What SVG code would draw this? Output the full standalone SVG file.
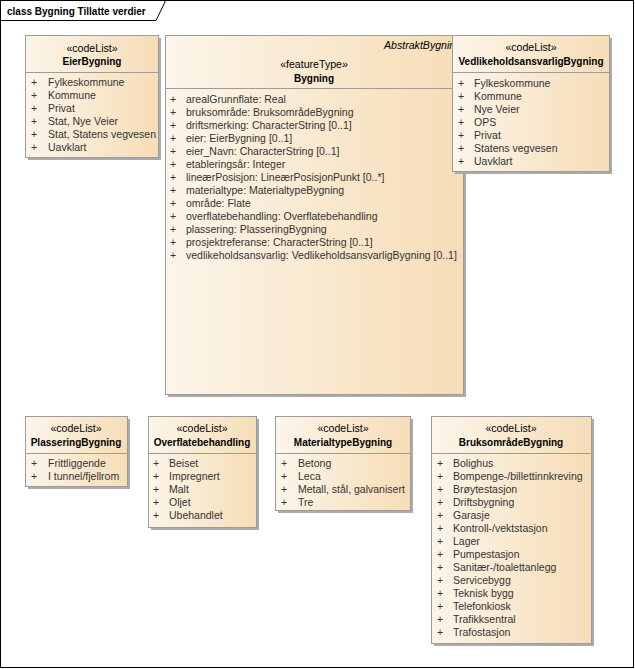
<svg xmlns="http://www.w3.org/2000/svg" width="635" height="669" viewBox="0 0 635 669">
<defs>
<linearGradient id="fillg" x1="0" y1="0" x2="1" y2="0">
<stop offset="0" stop-color="#FCF5EA"/>
<stop offset="1" stop-color="#F6DDB6"/>
</linearGradient>
</defs>
<style>
.box{fill:url(#fillg);stroke:#9C9C9C;stroke-width:1}
.shadow{fill:#ABABAB}
.sep{stroke:#9C9C9C;stroke-width:1}
.st{font-family:"Liberation Sans",Arial,sans-serif;font-size:10.6px;fill:#000;text-anchor:middle}
.nm{font-family:"Liberation Sans",Arial,sans-serif;font-size:10px;font-weight:bold;fill:#000;text-anchor:middle}
.at{font-family:"Liberation Sans",Arial,sans-serif;font-size:10.5px;fill:#333}
.ab{font-family:"Liberation Sans",Arial,sans-serif;font-size:10.6px;font-style:italic;fill:#000}
.frame{fill:none;stroke:#000;stroke-width:1}
.lbl{font-family:"Liberation Sans",Arial,sans-serif;font-size:10px;font-weight:bold;fill:#000}
</style>
<rect x="0" y="0" width="635" height="669" fill="#FFFFFF"/>
<g id="frame">
<rect class="frame" x="0.5" y="0.5" width="633" height="667"/>
<path class="frame" d="M0.5,20.5 H156 L165,2 V0.5"/>
<text class="lbl" x="7" y="15">class Bygning Tillatte verdier</text>
</g>
<g id="connectors"></g>

<g id="EierBygning">
<rect class="shadow" x="28" y="38" width="133" height="122"/>
<rect class="box" x="25.5" y="35.5" width="133" height="122"/>
<line class="sep" x1="25.5" y1="72.5" x2="158.5" y2="72.5"/>
<text class="st" x="92" y="52">«codeList»</text>
<text class="nm" x="92" y="65">EierBygning</text>
<g class="at">
<text x="31" y="86">+</text><text x="48" y="86">Fylkeskommune</text>
<text x="31" y="99">+</text><text x="48" y="99">Kommune</text>
<text x="31" y="112">+</text><text x="48" y="112">Privat</text>
<text x="31" y="125">+</text><text x="48" y="125">Stat, Nye Veier</text>
<text x="31" y="138">+</text><text x="48" y="138">Stat, Statens vegvesen</text>
<text x="31" y="151">+</text><text x="48" y="151">Uavklart</text>
</g>
</g>

<g id="Bygning">
<rect class="shadow" x="168" y="38" width="298" height="359"/>
<rect class="box" x="165.5" y="35.5" width="298" height="359"/>
<line class="sep" x1="165.5" y1="88.5" x2="463.5" y2="88.5"/>
<text class="ab" x="384" y="49">AbstraktBygning</text>
<text class="st" x="314" y="68">«featureType»</text>
<text class="nm" x="314" y="82">Bygning</text>
<g class="at">
<text x="170" y="103">+</text><text x="186" y="103">arealGrunnflate: Real</text>
<text x="170" y="116">+</text><text x="186" y="116">bruksområde: BruksområdeBygning</text>
<text x="170" y="129">+</text><text x="186" y="129">driftsmerking: CharacterString [0..1]</text>
<text x="170" y="142">+</text><text x="186" y="142">eier: EierBygning [0..1]</text>
<text x="170" y="155">+</text><text x="186" y="155">eier_Navn: CharacterString [0..1]</text>
<text x="170" y="168">+</text><text x="186" y="168">etableringsår: Integer</text>
<text x="170" y="181">+</text><text x="186" y="181">lineærPosisjon: LineærPosisjonPunkt [0..*]</text>
<text x="170" y="194">+</text><text x="186" y="194">materialtype: MaterialtypeBygning</text>
<text x="170" y="207">+</text><text x="186" y="207">område: Flate</text>
<text x="170" y="220">+</text><text x="186" y="220">overflatebehandling: Overflatebehandling</text>
<text x="170" y="233">+</text><text x="186" y="233">plassering: PlasseringBygning</text>
<text x="170" y="246">+</text><text x="186" y="246">prosjektreferanse: CharacterString [0..1]</text>
<text x="170" y="259">+</text><text x="186" y="259">vedlikeholdsansvarlig: VedlikeholdsansvarligBygning [0..1]</text>
</g>
</g>

<g id="VedlikeholdsansvarligBygning">
<rect class="shadow" x="455" y="38" width="157" height="136"/>
<rect class="box" x="452.5" y="35.5" width="157" height="136"/>
<line class="sep" x1="452.5" y1="72.5" x2="609.5" y2="72.5"/>
<text class="st" x="531" y="51">«codeList»</text>
<text class="nm" x="531" y="65">VedlikeholdsansvarligBygning</text>
<g class="at">
<text x="458" y="87">+</text><text x="474" y="87">Fylkeskommune</text>
<text x="458" y="100">+</text><text x="474" y="100">Kommune</text>
<text x="458" y="113">+</text><text x="474" y="113">Nye Veier</text>
<text x="458" y="126">+</text><text x="474" y="126">OPS</text>
<text x="458" y="139">+</text><text x="474" y="139">Privat</text>
<text x="458" y="152">+</text><text x="474" y="152">Statens vegvesen</text>
<text x="458" y="165">+</text><text x="474" y="165">Uavklart</text>
</g>
</g>

<g id="PlasseringBygning">
<rect class="shadow" x="28" y="419" width="102" height="70"/>
<rect class="box" x="25.5" y="416.5" width="102" height="70"/>
<line class="sep" x1="25.5" y1="453.5" x2="127.5" y2="453.5"/>
<text class="st" x="76" y="432">«codeList»</text>
<text class="nm" x="76" y="446">PlasseringBygning</text>
<g class="at">
<text x="31" y="467">+</text><text x="48" y="467">Frittliggende</text>
<text x="31" y="480">+</text><text x="48" y="480">I tunnel/fjellrom</text>
</g>
</g>

<g id="Overflatebehandling">
<rect class="shadow" x="151" y="419" width="108" height="111"/>
<rect class="box" x="148.5" y="416.5" width="108" height="111"/>
<line class="sep" x1="148.5" y1="453.5" x2="256.5" y2="453.5"/>
<text class="st" x="202" y="432">«codeList»</text>
<text class="nm" x="202" y="446">Overflatebehandling</text>
<g class="at">
<text x="153" y="467">+</text><text x="169" y="467">Beiset</text>
<text x="153" y="480">+</text><text x="169" y="480">Impregnert</text>
<text x="153" y="493">+</text><text x="169" y="493">Malt</text>
<text x="153" y="506">+</text><text x="169" y="506">Oljet</text>
<text x="153" y="519">+</text><text x="169" y="519">Ubehandlet</text>
</g>
</g>

<g id="MaterialtypeBygning">
<rect class="shadow" x="278" y="419" width="135" height="94"/>
<rect class="box" x="275.5" y="416.5" width="135" height="94"/>
<line class="sep" x1="275.5" y1="453.5" x2="410.5" y2="453.5"/>
<text class="st" x="343" y="432">«codeList»</text>
<text class="nm" x="343" y="446">MaterialtypeBygning</text>
<g class="at">
<text x="281" y="467">+</text><text x="298" y="467">Betong</text>
<text x="281" y="480">+</text><text x="298" y="480">Leca</text>
<text x="281" y="493">+</text><text x="298" y="493">Metall, stål, galvanisert</text>
<text x="281" y="506">+</text><text x="298" y="506">Tre</text>
</g>
</g>

<g id="BruksomradeBygning">
<rect class="shadow" x="434" y="419" width="160" height="227"/>
<rect class="box" x="431.5" y="416.5" width="160" height="227"/>
<line class="sep" x1="431.5" y1="453.5" x2="591.5" y2="453.5"/>
<text class="st" x="511" y="432">«codeList»</text>
<text class="nm" x="511" y="446">BruksområdeBygning</text>
<g class="at">
<text x="437" y="467">+</text><text x="453" y="467">Bolighus</text>
<text x="437" y="480">+</text><text x="453" y="480">Bompenge-/billettinnkreving</text>
<text x="437" y="493">+</text><text x="453" y="493">Brøytestasjon</text>
<text x="437" y="506">+</text><text x="453" y="506">Driftsbygning</text>
<text x="437" y="519">+</text><text x="453" y="519">Garasje</text>
<text x="437" y="532">+</text><text x="453" y="532">Kontroll-/vektstasjon</text>
<text x="437" y="545">+</text><text x="453" y="545">Lager</text>
<text x="437" y="558">+</text><text x="453" y="558">Pumpestasjon</text>
<text x="437" y="571">+</text><text x="453" y="571">Sanitær-/toalettanlegg</text>
<text x="437" y="584">+</text><text x="453" y="584">Servicebygg</text>
<text x="437" y="597">+</text><text x="453" y="597">Teknisk bygg</text>
<text x="437" y="610">+</text><text x="453" y="610">Telefonkiosk</text>
<text x="437" y="623">+</text><text x="453" y="623">Trafikksentral</text>
<text x="437" y="636">+</text><text x="453" y="636">Trafostasjon</text>
</g>
</g>
</svg>
